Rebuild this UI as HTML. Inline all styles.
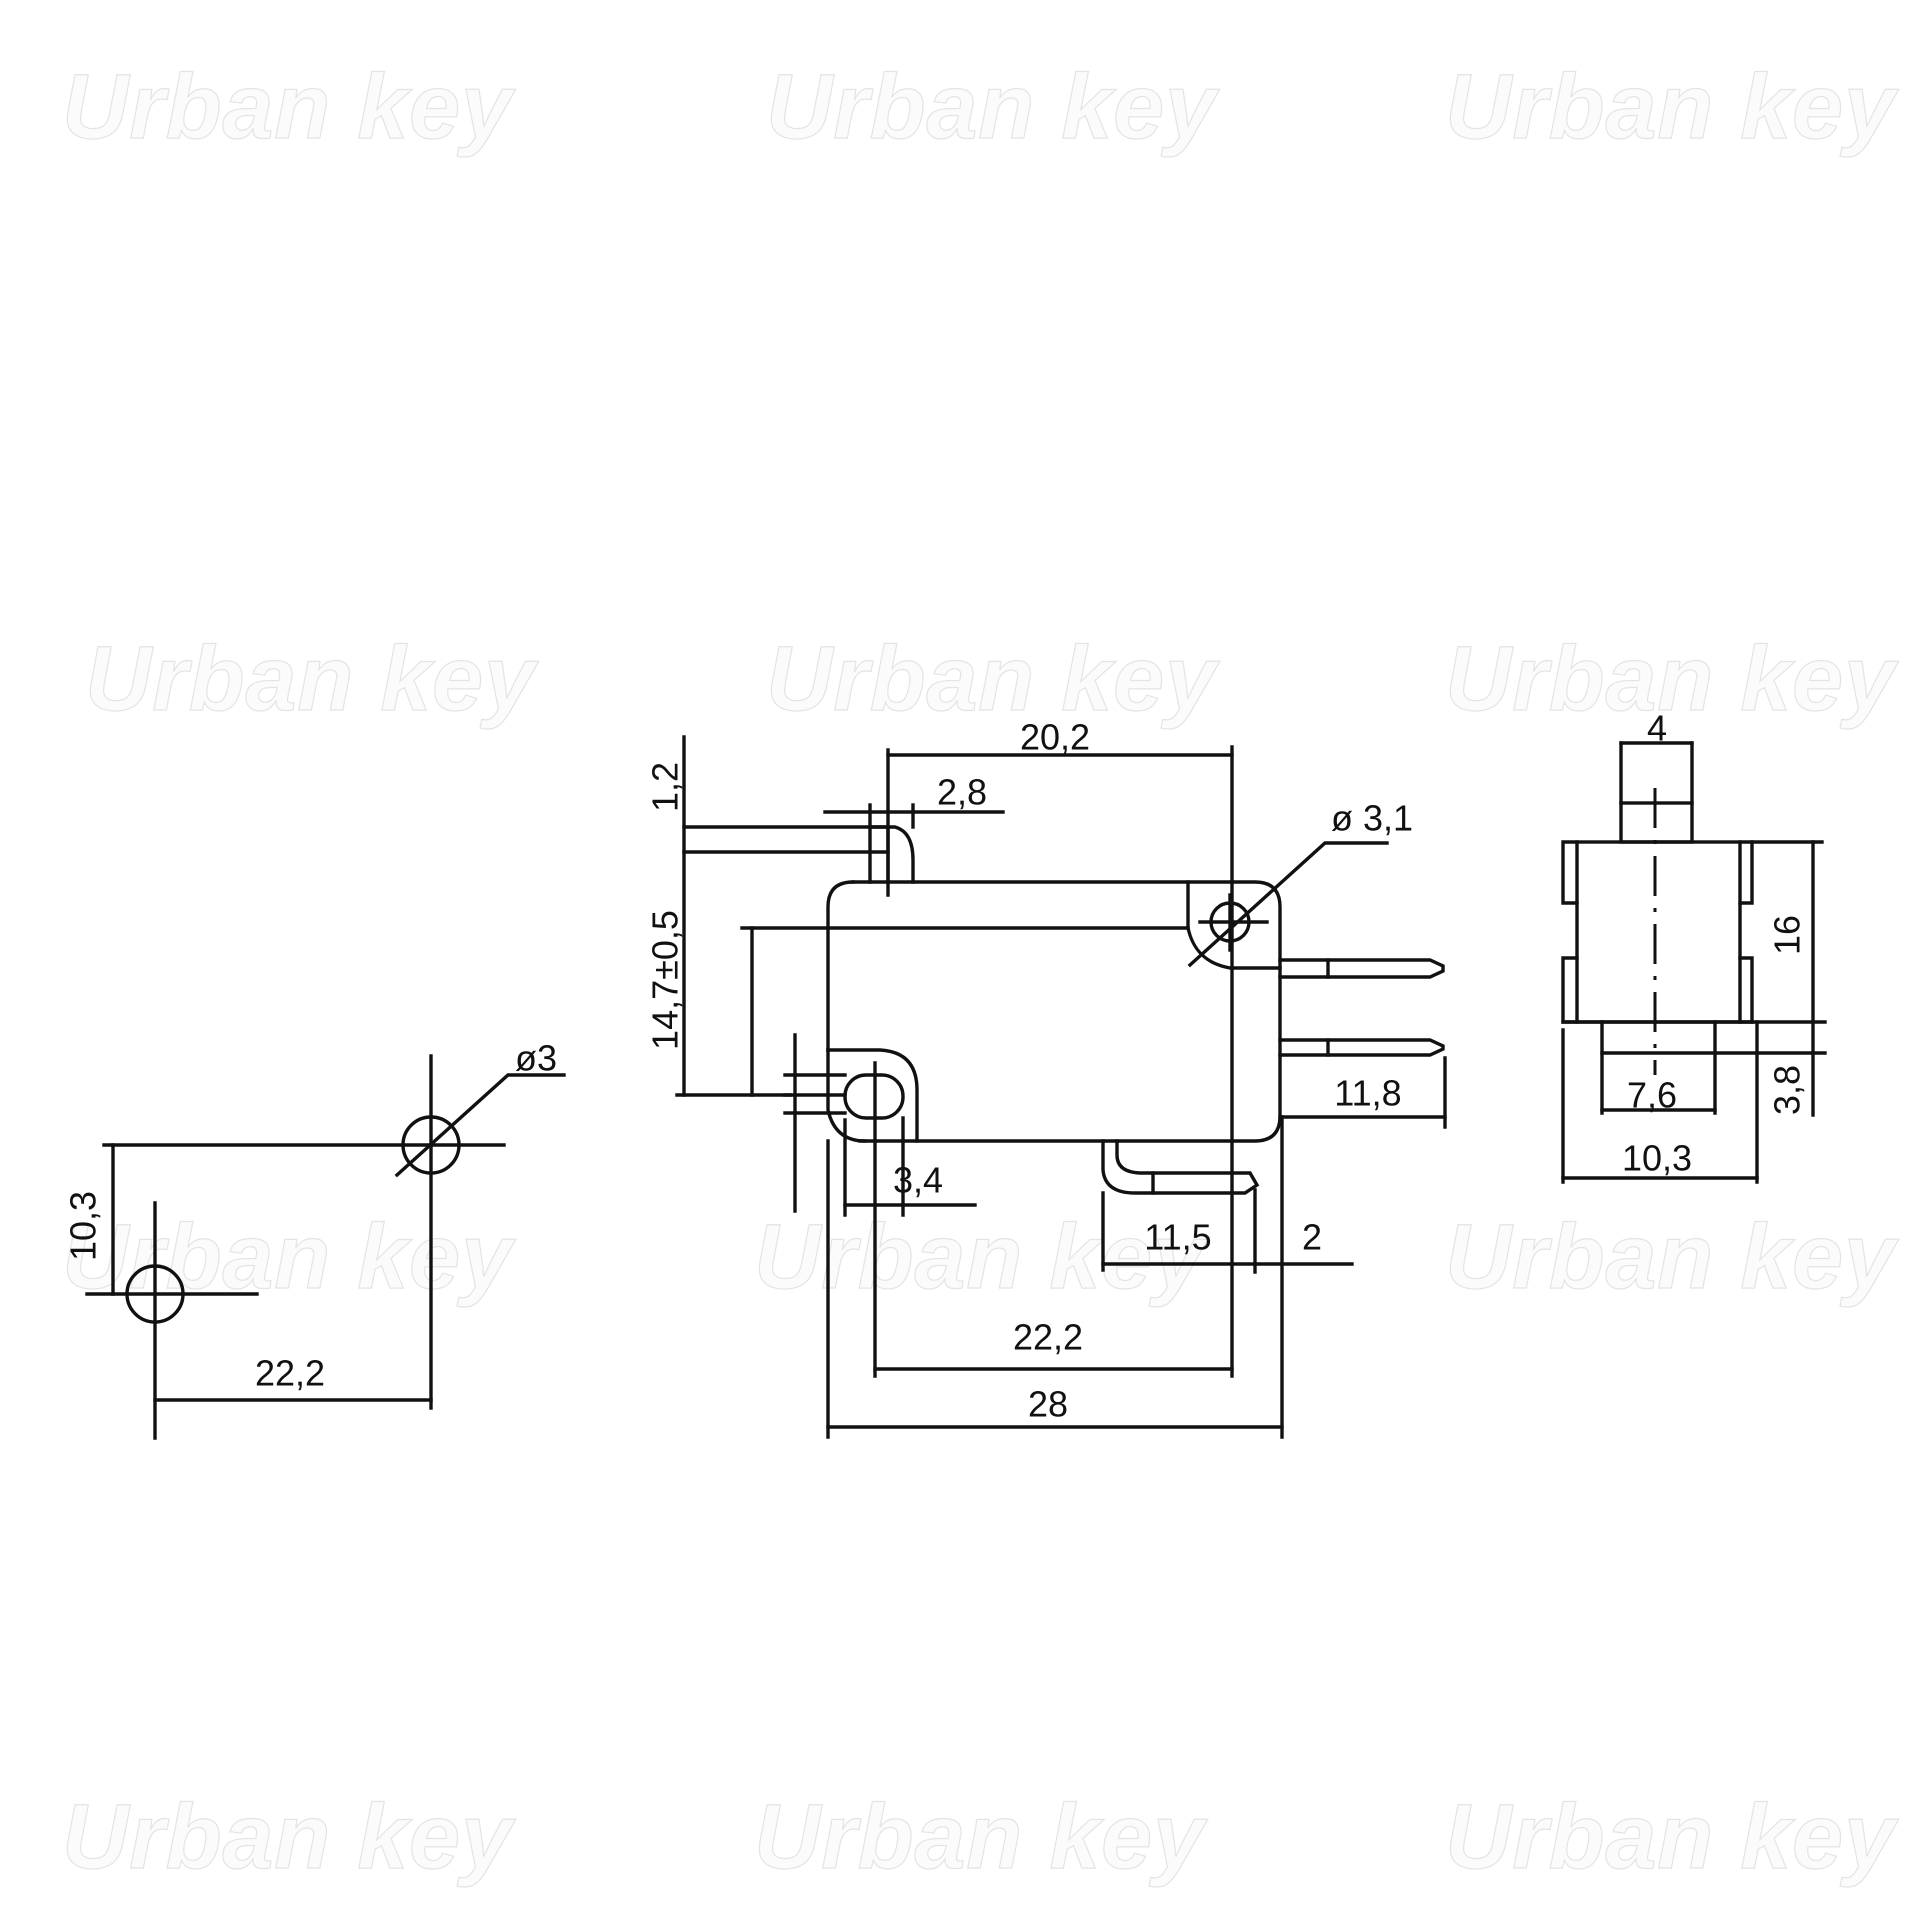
<!DOCTYPE html>
<html><head><meta charset="utf-8"><style>
html,body{margin:0;padding:0;background:#fff;}
svg{display:block;}
.l{stroke:#111;stroke-width:3.4;fill:none;stroke-linecap:square;}
.t{font-family:"Liberation Sans",sans-serif;font-size:36px;fill:#111;text-anchor:middle;dominant-baseline:central;}
.w{font-family:"Liberation Sans",sans-serif;font-weight:bold;font-style:italic;font-size:92px;fill:#fbfbfb;stroke:#e4e4e4;stroke-width:1.2;}
</style></head><body>
<svg width="1932" height="1932" viewBox="0 0 1932 1932" xmlns="http://www.w3.org/2000/svg">
<rect width="1932" height="1932" fill="#fff"/>

<!-- watermarks (behind) -->
<g class="w">
<text x="62" y="138" textLength="450">Urban key</text>
<text x="766" y="138" textLength="450">Urban key</text>
<text x="1445" y="138" textLength="450">Urban key</text>
<text x="85" y="710" textLength="450">Urban key</text>
<text x="766" y="710" textLength="450">Urban key</text>
<text x="1445" y="710" textLength="450">Urban key</text>
<text x="62" y="1288" textLength="450">Urban key</text>
<text x="754" y="1288" textLength="450">Urban key</text>
<text x="1445" y="1288" textLength="450">Urban key</text>
<text x="62" y="1868" textLength="450">Urban key</text>
<text x="754" y="1868" textLength="450">Urban key</text>
<text x="1445" y="1868" textLength="450">Urban key</text>
</g>

<!-- LEFT VIEW -->
<g class="l">
<circle cx="431" cy="1145" r="28"/>
<circle cx="155" cy="1294" r="28"/>
<line x1="104" y1="1145" x2="504" y2="1145"/>
<line x1="431" y1="1056" x2="431" y2="1408"/>
<line x1="155" y1="1203" x2="155" y2="1438"/>
<line x1="87" y1="1294" x2="257" y2="1294"/>
<line x1="113" y1="1145" x2="113" y2="1294"/>
<line x1="155" y1="1400" x2="431" y2="1400"/>
<polyline points="397,1175 508,1075 564,1075"/>
</g>
<text class="t" x="83" y="1226" transform="rotate(-90 83 1226)">10,3</text>
<text class="t" x="290" y="1373">22,2</text>
<text class="t" x="536" y="1058">ø3</text>

<!-- MAIN VIEW -->
<g class="l">
<path d="M853,882 H1255 Q1280,882 1280,907 V1116 Q1280,1141 1255,1141 H860"/>
<path d="M828,1050 V907 Q828,882 853,882"/>
<line x1="742" y1="928" x2="1188" y2="928"/>
<line x1="1188" y1="882" x2="1188" y2="928"/>
<path d="M1188,928 Q1195,962 1230,968 H1280"/>
<circle cx="1230" cy="922" r="19"/>
<line x1="1200" y1="922" x2="1267" y2="922"/>
<line x1="1230" y1="895" x2="1230" y2="950"/>
<polyline points="1190,965 1325,843 1387,843"/>
<path d="M870,882 V827 H895 Q913,832 913,860 V882"/>
<line x1="888" y1="827" x2="888" y2="882"/>
<line x1="684" y1="737" x2="684" y2="1095"/>
<line x1="684" y1="827" x2="888" y2="827"/>
<line x1="684" y1="852" x2="888" y2="852"/>
<line x1="752" y1="928" x2="752" y2="1095"/>
<line x1="677" y1="1095" x2="790" y2="1095"/>
<line x1="825" y1="812" x2="1003" y2="812"/>
<line x1="870" y1="805" x2="870" y2="827"/>
<line x1="913" y1="805" x2="913" y2="827"/>
<line x1="888" y1="755" x2="1232" y2="755"/>
<line x1="888" y1="750" x2="888" y2="895"/>
<line x1="1232" y1="747" x2="1232" y2="1376"/>
<path d="M828,1050 H880 Q917,1052 917,1090 V1141"/>
<rect x="845" y="1075" width="58" height="43" rx="21"/>
<path d="M828,1050 V1110 Q835,1141 865,1141"/>
<line x1="785" y1="1075" x2="845" y2="1075"/>
<line x1="785" y1="1095" x2="845" y2="1095"/>
<line x1="785" y1="1113" x2="845" y2="1113"/>
<line x1="795" y1="1035" x2="795" y2="1211"/>
<line x1="875" y1="1063" x2="875" y2="1376"/>
<line x1="845" y1="1120" x2="845" y2="1215"/>
<line x1="903" y1="1118" x2="903" y2="1215"/>
<line x1="845" y1="1205" x2="975" y2="1205"/>
<path d="M1280,960 H1430 L1443,966 V971 L1430,977 H1280"/>
<line x1="1328" y1="960" x2="1328" y2="977"/>
<path d="M1280,1040 H1430 L1443,1046 V1049 L1430,1055 H1280"/>
<line x1="1328" y1="1040" x2="1328" y2="1055"/>
<line x1="1280" y1="1117" x2="1445" y2="1117"/>
<line x1="1445" y1="1058" x2="1445" y2="1127"/>
<path d="M1103,1141 V1170 Q1105,1193 1135,1193 H1245 L1257,1185 L1250,1173 H1140 Q1117,1172 1117,1155 V1141"/>
<line x1="1153" y1="1173" x2="1153" y2="1193"/>
<line x1="1103" y1="1193" x2="1103" y2="1270"/>
<line x1="1255" y1="1190" x2="1255" y2="1272"/>
<line x1="1103" y1="1264" x2="1352" y2="1264"/>
<line x1="875" y1="1369" x2="1232" y2="1369"/>
<line x1="828" y1="1141" x2="828" y2="1437"/>
<line x1="1282" y1="1117" x2="1282" y2="1437"/>
<line x1="828" y1="1427" x2="1282" y2="1427"/>
</g>
<text class="t" x="1055" y="737">20,2</text>
<text class="t" x="962" y="792">2,8</text>
<text class="t" x="1372" y="818">ø 3,1</text>
<text class="t" x="665" y="787" transform="rotate(-90 665 787)">1,2</text>
<text class="t" x="665" y="980" transform="rotate(-90 665 980)">14,7±0,5</text>
<text class="t" x="1368" y="1093">11,8</text>
<text class="t" x="918" y="1180">3,4</text>
<text class="t" x="1178" y="1237">11,5</text>
<text class="t" x="1312" y="1237">2</text>
<text class="t" x="1048" y="1337">22,2</text>
<text class="t" x="1048" y="1404">28</text>

<!-- RIGHT VIEW -->
<g class="l">
<rect x="1577" y="842" width="163" height="180"/>
<path d="M1577,842 H1563 V903 H1577"/>
<path d="M1577,958 H1563 V1022 H1577"/>
<path d="M1740,842 H1752 V903 H1740"/>
<path d="M1740,958 H1752 V1022 H1740"/>
<line x1="1563" y1="1022" x2="1752" y2="1022"/>
<rect x="1621" y="803" width="71" height="39"/>
<line x1="1621" y1="743" x2="1621" y2="803"/>
<line x1="1692" y1="743" x2="1692" y2="803"/>
<line x1="1621" y1="743" x2="1692" y2="743"/>
<line x1="1602" y1="1022" x2="1602" y2="1113"/>
<line x1="1715" y1="1022" x2="1715" y2="1113"/>
<line x1="1602" y1="1053" x2="1825" y2="1053"/>
<line x1="1602" y1="1110" x2="1715" y2="1110"/>
<line x1="1563" y1="1030" x2="1563" y2="1182"/>
<line x1="1757" y1="1022" x2="1757" y2="1182"/>
<line x1="1563" y1="1178" x2="1757" y2="1178"/>
<line x1="1813" y1="842" x2="1813" y2="1115"/>
<line x1="1752" y1="842" x2="1822" y2="842"/>
<line x1="1752" y1="1022" x2="1825" y2="1022"/>
</g>
<line x1="1655" y1="788" x2="1655" y2="1075" stroke="#111" stroke-width="3" stroke-dasharray="40,12,4,12"/>
<text class="t" x="1657" y="728">4</text>
<text class="t" x="1787" y="935" transform="rotate(-90 1787 935)">16</text>
<text class="t" x="1787" y="1090" transform="rotate(-90 1787 1090)">3,8</text>
<text class="t" x="1652" y="1095">7,6</text>
<text class="t" x="1657" y="1158">10,3</text>
</svg>
</body></html>
